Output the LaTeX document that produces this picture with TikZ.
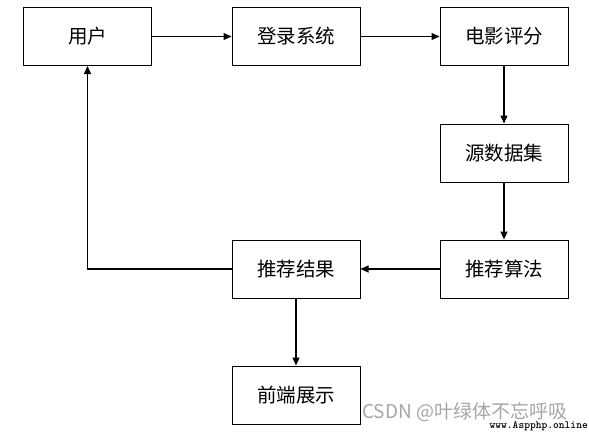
\documentclass[tikz,border=0pt]{standalone}
\usepackage{fontspec}
\newfontfamily\cjk{Noto Sans CJK SC}
\usetikzlibrary{arrows.meta}
\begin{document}
\begin{tikzpicture}[x=1pt,y=-1pt,
  box/.style={draw, line width=1pt, minimum width=128pt, minimum height=58pt, font=\cjk\fontsize{19.5}{19.5}\selectfont, inner sep=0pt},
  conn/.style={line width=1.1pt, -{Triangle[length=8pt,width=7pt]}},
  wm/.style={text=black!35, inner sep=0pt}]
\useasboundingbox (0,0) rectangle (589,432);
\node[box] (user) at (87.5,36.5) {用户};
\node[box] (login) at (296,36.5) {登录系统};
\node[box] (rate) at (504,36.5) {电影评分};
\node[box] (data) at (504,153) {源数据集};
\node[box] (algo) at (504,269) {推荐算法};
\node[box] (res) at (296,269) {推荐结果};
\node[box] (front) at (296,395) {前端展示};
\draw[conn] (user) -- (login);
\draw[conn] (login) -- (rate);
\draw[conn] (rate) -- (data);
\draw[conn] (data) -- (algo);
\draw[conn] (algo) -- (res);
\draw[conn] (res.west) -| (user.south);
\draw[conn] (res) -- (front);
\node[wm, anchor=west, font=\cjk\fontsize{19}{19}\selectfont] (wm1) at (362,412) {CSDN @叶绿体不忘呼吸};
\node[anchor=east, inner sep=0pt, font=\ttfamily\bfseries\fontsize{11}{11}\selectfont] (wm2) at (588,426) {www.Aspphp.online};
\end{tikzpicture}
\end{document}
